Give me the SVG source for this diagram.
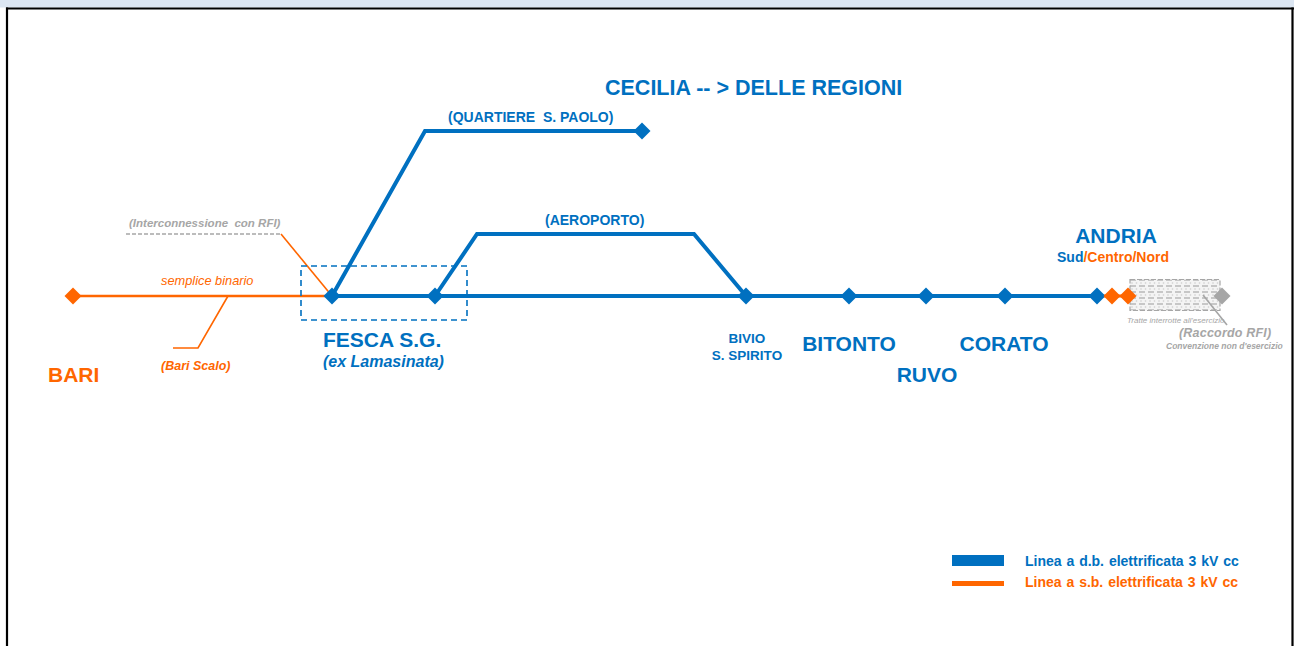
<svg xmlns="http://www.w3.org/2000/svg" width="1294" height="646" viewBox="0 0 1294 646">
<defs>
<style>
.b{fill:#0070C0}
.o{fill:#FF6600}
.g{fill:#A6A6A6}
.t{font-family:"Liberation Sans",Arial,sans-serif;font-weight:bold}
.it{font-style:italic}
.bl{stroke:#0070C0;stroke-width:4;fill:none;stroke-linejoin:miter}
.ol{stroke:#FF6600;stroke-width:2.5;fill:none}
.on{stroke:#FF6600;stroke-width:1.6;fill:none}
</style>
<path id="dia" d="M0,-8.5 L8.5,0 L0,8.5 L-8.5,0 Z"/>
<pattern id="hatch" width="9" height="6" patternUnits="userSpaceOnUse" x="1130" y="279">
<rect width="9" height="6" fill="#F4F4F4"/>
<line x1="0" y1="1" x2="6" y2="1" stroke="#B4B4B4" stroke-width="1.4"/>
<circle cx="2" cy="4" r="0.8" fill="#CCCCCC"/>
<circle cx="6.5" cy="4" r="0.8" fill="#CCCCCC"/>
</pattern>
</defs>
<rect x="0" y="0" width="1294" height="646" fill="#FFFFFF"/>
<rect x="0" y="0" width="1294" height="7.5" fill="#DCE6F2"/>
<line x1="6" y1="8.5" x2="1294" y2="8.5" stroke="#000" stroke-width="2.2"/>
<line x1="7" y1="7.5" x2="7" y2="646" stroke="#000" stroke-width="2.2"/>
<line x1="1292.5" y1="7.5" x2="1292.5" y2="646" stroke="#000" stroke-width="2.2"/>

<g id="connectors">
<polyline class="ol" points="73,296 332,296"/>
<polyline class="on" points="173,348 198,348 228,296"/>
<polyline class="on" points="281,234 332,296"/>
<line x1="126" y1="234" x2="281" y2="234" stroke="#A6A6A6" stroke-width="1.5" stroke-dasharray="4,2"/>
<polyline class="bl" points="332,296 1097,296"/>
<polyline class="bl" points="332,296 425,131 642,131"/>
<polyline class="bl" points="435,296 477,234 694,234 746,296"/>
<line x1="1097" y1="296" x2="1130" y2="296" stroke="#FF6600" stroke-width="3"/>
<rect x="1130" y="279.5" width="90" height="31" fill="url(#hatch)" stroke="#A6A6A6" stroke-width="1.2" stroke-dasharray="5,2"/>
<line x1="1203" y1="295" x2="1227" y2="325" stroke="#A6A6A6" stroke-width="1.6"/>
<rect x="301" y="266" width="166" height="54" fill="none" stroke="#0070C0" stroke-width="1.6" stroke-dasharray="6,4"/>
</g>

<g id="bari">
<use href="#dia" x="73" y="296" class="o"/>
<text class="t o" x="48" y="382" font-size="21">BARI</text>
</g>
<g id="bari-scalo">
<text class="t o it" x="161" y="370" font-size="12.5">(Bari Scalo)</text>
</g>
<g id="semplice">
<text class="t o it" x="161" y="285" font-size="12.8" style="font-weight:normal">semplice binario</text>
</g>
<g id="interconnessione">
<text class="t g it" x="129" y="227" font-size="11.5" xml:space="preserve">(Interconnessione  con RFI)</text>
</g>
<g id="fesca">
<use href="#dia" x="332" y="296" class="b"/>
<text class="t b" x="323" y="347" font-size="21">FESCA S.G.</text>
<text class="t b it" x="323" y="367" font-size="16">(ex Lamasinata)</text>
</g>
<g id="junction">
<use href="#dia" x="435" y="296" class="b"/>
</g>
<g id="quartiere">
<use href="#dia" x="642" y="131" class="b"/>
<text class="t b" x="448" y="122" font-size="14" xml:space="preserve">(QUARTIERE  S. PAOLO)</text>
</g>
<g id="cecilia">
<text class="t b" x="605" y="95" font-size="21.5" xml:space="preserve">CECILIA -- &gt; DELLE REGIONI</text>
</g>
<g id="aeroporto">
<text class="t b" x="545" y="225" font-size="14">(AEROPORTO)</text>
</g>
<g id="bivio">
<use href="#dia" x="746" y="296" class="b"/>
<text class="t b" x="747" y="343" font-size="13.5" text-anchor="middle">BIVIO</text>
<text class="t b" x="747" y="360" font-size="13.5" text-anchor="middle">S. SPIRITO</text>
</g>
<g id="bitonto">
<use href="#dia" x="849" y="296" class="b"/>
<text class="t b" x="849" y="351" font-size="21" text-anchor="middle">BITONTO</text>
</g>
<g id="ruvo">
<use href="#dia" x="926" y="296" class="b"/>
<text class="t b" x="927" y="382" font-size="21" text-anchor="middle">RUVO</text>
</g>
<g id="corato">
<use href="#dia" x="1005" y="296" class="b"/>
<text class="t b" x="1004" y="351" font-size="21" text-anchor="middle">CORATO</text>
</g>
<g id="andria">
<use href="#dia" x="1097" y="296" class="b"/>
<use href="#dia" x="1112" y="296" class="o"/>
<use href="#dia" x="1128" y="296" class="o"/>
<text class="t b" x="1116" y="243" font-size="21" text-anchor="middle">ANDRIA</text>
<text class="t" x="1057" y="262" font-size="14"><tspan class="b">Sud</tspan><tspan class="o">/Centro/Nord</tspan></text>
</g>
<g id="raccordo">
<use href="#dia" x="1222" y="296" class="g"/>
<text class="t g it" x="1127" y="322.5" font-size="8" style="font-weight:normal">Tratte interrotte all'esercizio</text>
<text class="t g it" x="1179" y="337" font-size="12.5" letter-spacing="0.2">(Raccordo RFI)</text>
<text class="t g it" x="1166" y="349" font-size="8.5">Convenzione non d'esercizio</text>
</g>
<g id="legend">
<rect x="952" y="555" width="52" height="11" class="b"/>
<rect x="952" y="581" width="52" height="5" class="o"/>
<text class="t b" x="1025" y="566" font-size="14" word-spacing="1">Linea a d.b. elettrificata 3 kV cc</text>
<text class="t o" x="1025" y="587" font-size="14" word-spacing="1">Linea a s.b. elettrificata 3 kV cc</text>
</g>
</svg>
